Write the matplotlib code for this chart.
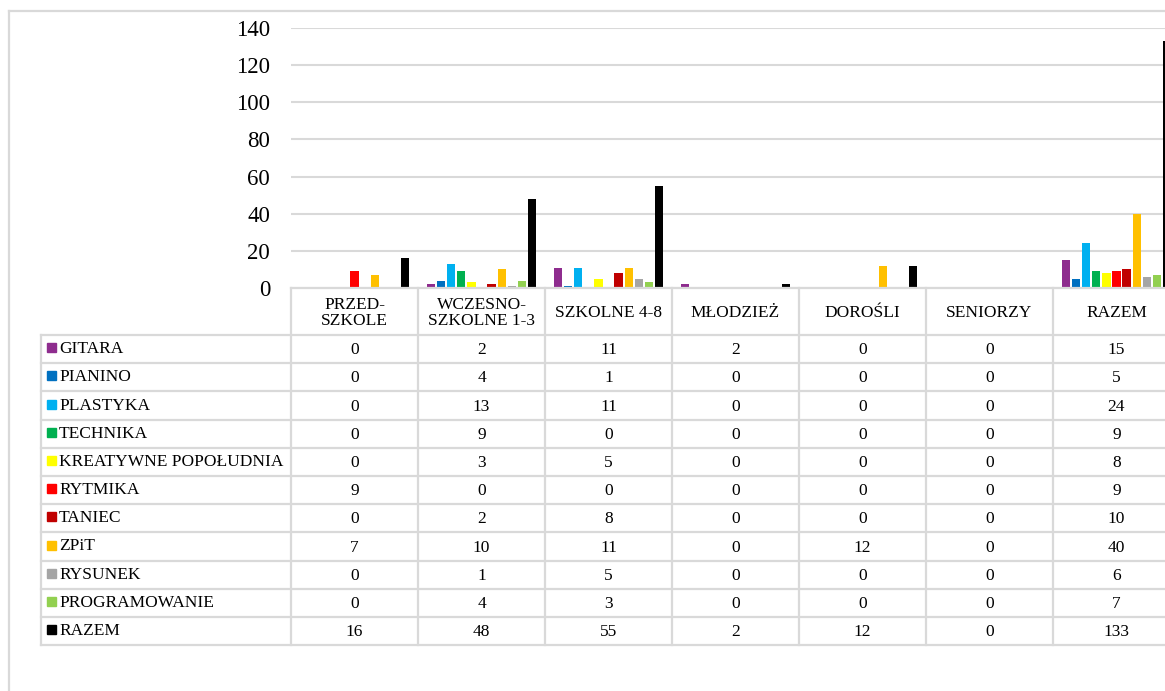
import numpy as np
import matplotlib
matplotlib.use('Agg')
import matplotlib.pyplot as plt

plt.rcParams['font.family'] = ['Liberation Serif', 'DejaVu Serif']

# data
categories = ['PRZED-\nSZKOLE', 'WCZESNO-\nSZKOLNE 1-3', 'SZKOLNE 4-8', 'MŁODZIEŻ',
              'DOROŚLI', 'SENIORZY', 'RAZEM']
series_names = ['GITARA', 'PIANINO', 'PLASTYKA', 'TECHNIKA', 'KREATYWNE POPOŁUDNIA',
                'RYTMIKA', 'TANIEC', 'ZPiT', 'RYSUNEK', 'PROGRAMOWANIE', 'RAZEM']
gitara = [0, 2, 11, 2, 0, 0, 15]
pianino = [0, 4, 1, 0, 0, 0, 5]
plastyka = [0, 13, 11, 0, 0, 0, 24]
technika = [0, 9, 0, 0, 0, 0, 9]
kreatywne = [0, 3, 5, 0, 0, 0, 8]
rytmika = [9, 0, 0, 0, 0, 0, 9]
taniec = [0, 2, 8, 0, 0, 0, 10]
zpit = [7, 10, 11, 0, 12, 0, 40]
rysunek = [0, 1, 5, 0, 0, 0, 6]
programowanie = [0, 4, 3, 0, 0, 0, 7]
razem = [16, 48, 55, 2, 12, 0, 133]
series_values = [gitara, pianino, plastyka, technika, kreatywne, rytmika,
                 taniec, zpit, rysunek, programowanie, razem]

colors = ['#8E2C8E', '#0070C0', '#00B0F0', '#00B050', '#FFFF00', '#FF0000',
          '#C00000', '#FFC000', '#A5A5A5', '#92D050', '#000000']
grid_col = '#D9D9D9'

W, H = 1165, 691
fig = plt.figure(figsize=(W / 100, H / 100), dpi=100)

# layout in pixels
plot_left = 291
col_w = 127
plot_bottom = 288
plot_top = 28
tab_left = 41
head_bottom = 335
row_h = 28.2

ax = fig.add_axes([plot_left / W, 1 - plot_bottom / H,
                   col_w * len(categories) / W, (plot_bottom - plot_top) / H])
n = len(series_values)
slot = 0.08
bar_w = 0.066
x = np.arange(len(categories))
for j, vals in enumerate(series_values):
    ax.bar(x + (j - (n - 1) / 2) * slot, vals, bar_w, color=colors[j],
           linewidth=0, zorder=3)

ax.set_xlim(-0.5, len(categories) - 0.5)
ax.set_ylim(0, 140)
ax.set_yticks(range(0, 141, 20))
ax.set_xticks([])
ax.tick_params(axis='y', length=0, pad=15, labelsize=16.5)
ax.grid(axis='y', color=grid_col, linewidth=1.5, zorder=0)
for s in ax.spines.values():
    s.set_visible(False)

# overlay for table and border, in pixel coords
ov = fig.add_axes([0, 0, 1, 1], facecolor='none')
ov.set_xlim(0, W)
ov.set_ylim(H, 0)
ov.axis('off')

lw = 1.6
# chart border
ov.plot([8.5, 8.5], [11, H + 5], color=grid_col, lw=lw)
ov.plot([8.5, W + 5], [11, 11], color=grid_col, lw=lw)

table_bottom = head_bottom + row_h * len(series_names)
right = W + 20
# axis line / header top
ov.plot([plot_left, right], [plot_bottom, plot_bottom], color=grid_col, lw=lw)
# horizontal row lines
for k in range(len(series_names) + 1):
    yk = head_bottom + k * row_h
    ov.plot([tab_left, right], [yk, yk], color=grid_col, lw=lw)
# vertical lines
ov.plot([tab_left, tab_left], [head_bottom, table_bottom], color=grid_col, lw=lw)
for i in range(len(categories) + 1):
    xi = plot_left + i * col_w
    ov.plot([xi, xi], [plot_bottom, table_bottom], color=grid_col, lw=lw)

# header labels
for i, c in enumerate(categories):
    ov.text(plot_left + (i + 0.5) * col_w, (plot_bottom + head_bottom) / 2 + 1, c,
            ha='center', va='center', fontsize=12.5, linespacing=1.0)

# rows
for k, (name, vals) in enumerate(zip(series_names, series_values)):
    yc = head_bottom + (k + 0.5) * row_h
    ov.add_patch(plt.Rectangle((47, yc - 6), 9, 9, color=colors[k]))
    ov.text(59, yc, name, ha='left', va='center', fontsize=12.5)
    for i, v in enumerate(vals):
        ov.text(plot_left + (i + 0.5) * col_w, yc + 1, str(v),
                ha='center', va='center', fontsize=12.5)

fig.savefig('out.png', dpi=100)
